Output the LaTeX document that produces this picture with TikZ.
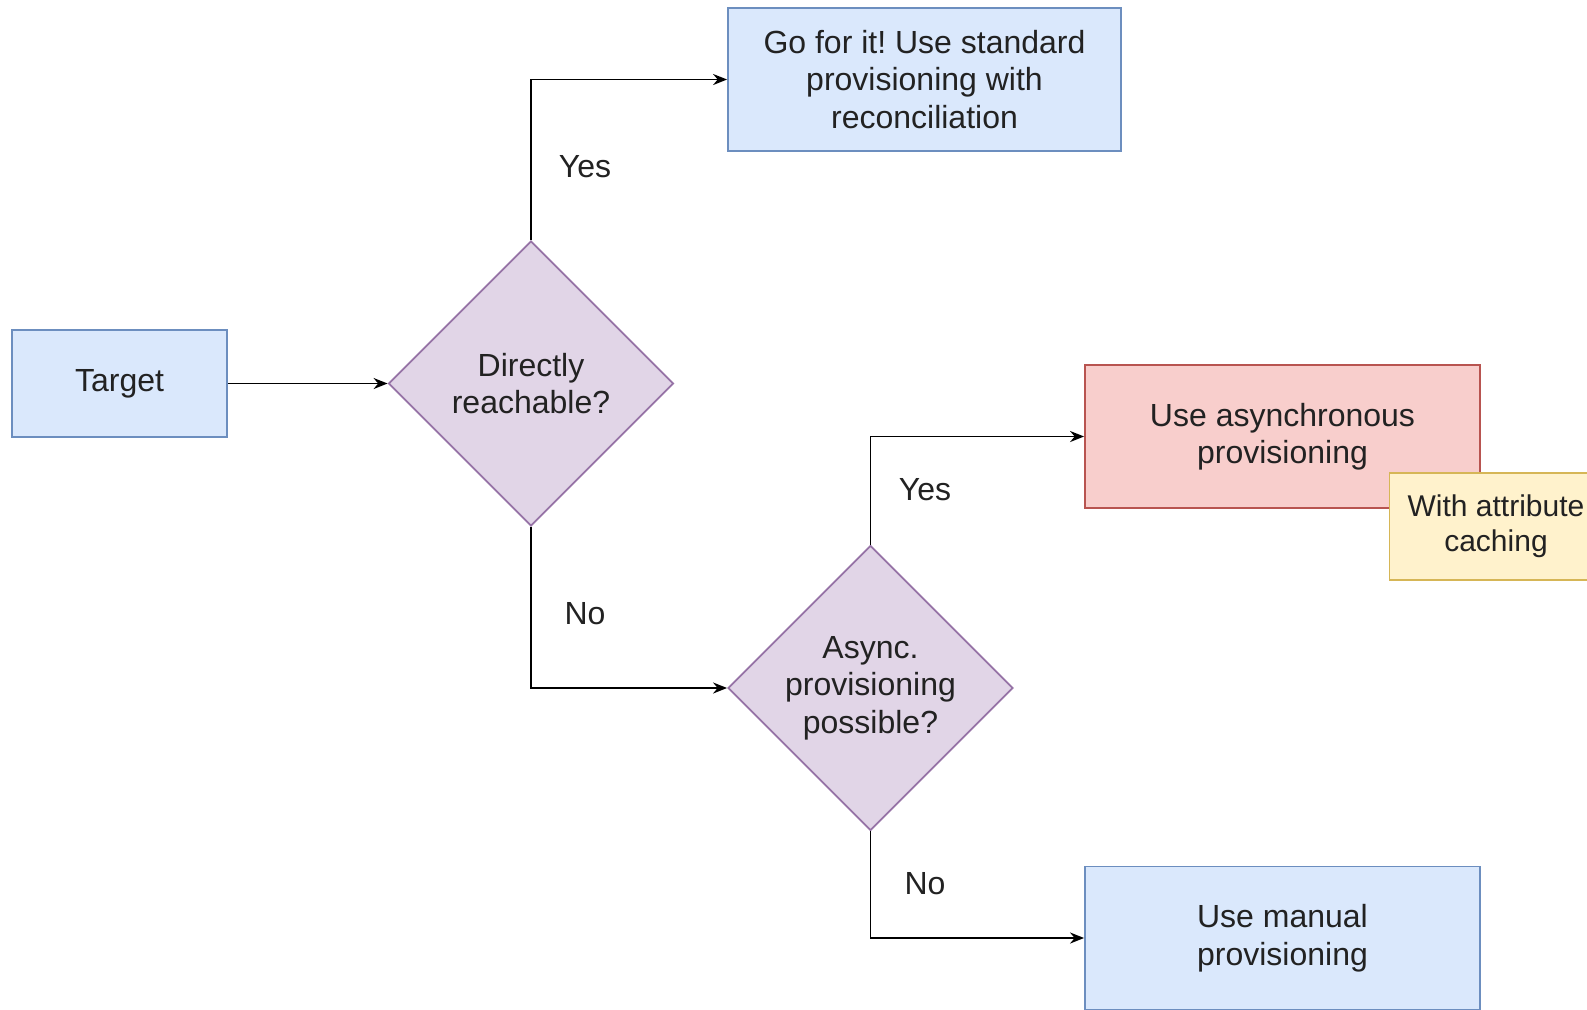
\documentclass[tikz,border=0pt]{standalone}
\usepackage{fontspec}
\setmainfont{Liberation Sans}
\usetikzlibrary{shapes.geometric,arrows.meta}
\frenchspacing

\definecolor{bluefill}{HTML}{DAE8FC}
\definecolor{bluedraw}{HTML}{6C8EBF}
\definecolor{purplefill}{HTML}{E1D5E7}
\definecolor{purpledraw}{HTML}{9673A6}
\definecolor{redfill}{HTML}{F8CECC}
\definecolor{reddraw}{HTML}{B85450}
\definecolor{yellowfill}{HTML}{FFF2CC}
\definecolor{yellowdraw}{HTML}{D6B656}
\definecolor{ink}{HTML}{222222}

\tikzset{
  base/.style={font=\fontsize{16}{18.75}\selectfont, text=ink, align=center, inner sep=0pt, line width=0.9pt},
  bluebox/.style={base, rectangle, draw=bluedraw, fill=bluefill},
  redbox/.style={base, rectangle, draw=reddraw, fill=redfill},
  notebox/.style={base, rectangle, draw=yellowdraw, fill=yellowfill,
    font=\fontsize{15}{17.6}\selectfont},
  decision/.style={base, diamond, aspect=1, draw=purpledraw, fill=purplefill,
    minimum width=142.5pt, minimum height=142.5pt},
  flow/.style={draw=black, line width=0.95pt, -{Stealth[length=7pt,width=5.5pt]}},
  edgelabel/.style={font=\fontsize{16}{18.75}\selectfont, text=ink, inner sep=0pt},
}

\begin{document}
\begin{tikzpicture}[x=0.5pt, y=-0.5pt]
  \clip (0,0) rectangle (1587,1009);
  \fill[white] (0,0) rectangle (1587,1009);

  % nodes
  \node[bluebox, minimum width=107.5pt, minimum height=53.5pt] (target) at (119.5,383.5) {Target};
  \node[decision] (direct) at (531,383.5) {Directly\\reachable?};
  \node[bluebox, minimum width=196.5pt, minimum height=71.5pt] (standard) at (924.5,79.5)
    {Go for it! Use standard\\provisioning with\\reconciliation};
  \node[decision] (async) at (870.5,688) {Async.\\provisioning\\possible?};
  \node[redbox, minimum width=197.5pt, minimum height=71.5pt] (asyncprov) at (1282.5,436.5)
    {Use asynchronous\\provisioning};
  \node[notebox, minimum width=106.5pt, minimum height=53.5pt] (caching) at (1496,526.5)
    {With attribute\\caching};
  \node[bluebox, minimum width=197.5pt, minimum height=71.5pt] (manual) at (1282.5,938)
    {Use manual\\provisioning};

  % connectors
  \draw[flow] (target.east) -- (direct.west);
  \draw[flow] (direct.north) |- (standard.west);
  \draw[flow] (direct.south) |- (async.west);
  \draw[flow] (async.north) |- (asyncprov.west);
  \draw[flow] (async.south) |- (manual.west);

  % branch labels
  \node[edgelabel] (yes1) at (585,167) {Yes};
  \node[edgelabel] (no1) at (585,614) {No};
  \node[edgelabel] (yes2) at (925,490) {Yes};
  \node[edgelabel] (no2) at (925,883.5) {No};
\end{tikzpicture}
\end{document}
